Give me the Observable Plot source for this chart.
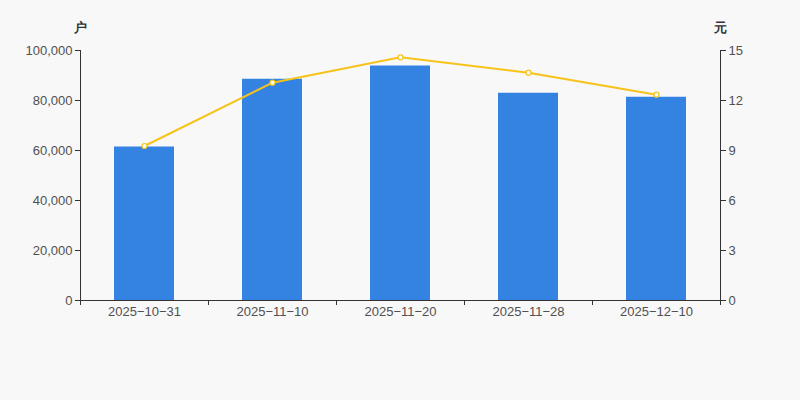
<!DOCTYPE html>
<html>
<head>
<meta charset="utf-8">
<script src="https://cdn.jsdelivr.net/npm/d3@7"></script>
<script src="https://cdn.jsdelivr.net/npm/@observablehq/plot@0.6"></script>
<style>
  html, body { margin: 0; padding: 0; background: #f8f8f8; }
  #chart { width: 800px; height: 400px; }
</style>
</head>
<body>
<div id="chart"></div>
<script>
const dates = ["2025-10-31", "2025-11-10", "2025-11-20", "2025-11-28", "2025-12-10"];
const holders = [61400, 88500, 93800, 82900, 81300];
const prices = [9.27, 13.07, 14.59, 13.67, 12.35];
const leftTicks = [0, 20000, 40000, 60000, 80000, 100000];
const rightTicks = [0, 3, 6, 9, 12, 15];
const leftMax = 100000, rightMax = 15;
const k = leftMax / rightMax;

const data = dates.map((d, i) => ({i, date: d, holders: holders[i], price: prices[i]}));
const font = "'Liberation Sans', Arial, sans-serif";
const blue = "#3482e2", yellow = "#f7c31a", ink = "#333", label = "#505050";

const chart = Plot.plot({
  width: 800,
  height: 400,
  marginLeft: 80,
  marginRight: 80,
  marginTop: 50,
  marginBottom: 100,
  style: {background: "#f8f8f8", fontFamily: font, fontSize: "13px", color: ink},
  x: {domain: [0, dates.length], axis: null},
  y: {domain: [0, leftMax], axis: null},
  marks: [
    Plot.rectY(data, {x1: "i", x2: d => d.i + 1, y: "holders", insetLeft: 34, insetRight: 34, fill: blue}),
    Plot.ruleX([0], {stroke: ink, strokeWidth: 1}),
    Plot.ruleX([dates.length], {stroke: ink, strokeWidth: 1}),
    Plot.ruleY([0], {stroke: ink, strokeWidth: 1}),
    Plot.axisY({anchor: "left", ticks: leftTicks, tickFormat: d => d3.format(",")(d), tickSize: 5, tickPadding: 3, label: null, fontSize: 13, stroke: ink, fill: label}),
    Plot.axisY({anchor: "right", ticks: rightTicks.map(v => v * k), tickFormat: d => String(Math.round(d / k)), tickSize: 5, tickPadding: 3, label: null, fontSize: 13, stroke: ink, fill: label}),
    Plot.axisX({anchor: "bottom", ticks: d3.range(dates.length + 1), tickFormat: () => "", tickSize: 5, label: null, stroke: ink}),
    Plot.axisX({anchor: "bottom", ticks: data.map(d => d.i + 0.5), tickFormat: v => dates[Math.floor(v)].replace(/-/g, "\u2212"), tickSize: 0, tickPadding: 6, label: null, fontSize: 13, fill: label}),
    Plot.line(data, {x: d => d.i + 0.5, y: d => d.price * k, stroke: yellow, strokeWidth: 2}),
    Plot.dot(data, {x: d => d.i + 0.5, y: d => d.price * k, r: 2.5, fill: "#fff", stroke: yellow, strokeWidth: 1.2}),
    Plot.text(["户"], {frameAnchor: "top-left", dy: -28, fill: ink, fontSize: 13, fontWeight: "bold", textAnchor: "middle"}),
    Plot.text(["元"], {frameAnchor: "top-right", dy: -28, fill: ink, fontSize: 13, fontWeight: "bold", textAnchor: "middle"})
  ]
});
document.getElementById("chart").appendChild(chart);
</script>
</body>
</html>
